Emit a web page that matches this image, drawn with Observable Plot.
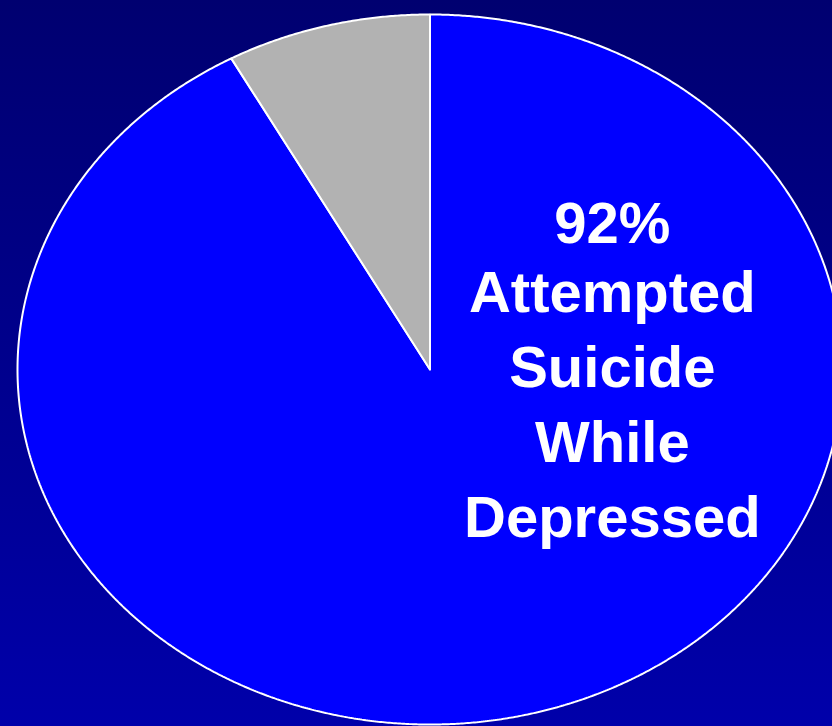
<!DOCTYPE html>
<html>
<head>
<meta charset="utf-8">
<script src="https://cdn.jsdelivr.net/npm/d3@7"></script>
<script src="https://cdn.jsdelivr.net/npm/@observablehq/plot@0.6"></script>
<style>
  html, body { margin: 0; padding: 0; overflow: hidden; background: linear-gradient(#000070, #0000AA); }
  #chart svg { display: block; overflow: hidden; }
</style>
</head>
<body>
<div id="chart"></div>
<script>
// Data
const categories = ["Attempted Suicide While Depressed", "Other"];
const values = [92, 8];
const colors = ["#0000FF", "#B2B2B2"];
const percentLabel = "92%";
const descriptionLines = ["Attempted", "Suicide", "While", "Depressed"];

// Pie geometry in unit data space (ellipse comes from x/y scales)
const arcs = d3.pie().sort(null).value(d => d)(values);
function wedge(a, i) {
  const n = Math.max(8, Math.ceil((a.endAngle - a.startAngle) / 0.005));
  const pts = [{x: 0, y: 0, k: i}];
  for (let j = 0; j <= n; j++) {
    const t = a.startAngle + (a.endAngle - a.startAngle) * j / n;
    pts.push({x: Math.sin(t), y: Math.cos(t), k: i});
  }
  pts.push({x: 0, y: 0, k: i});
  return pts;
}

const marks = arcs.map((a, i) =>
  Plot.line(wedge(a, i), {
    x: "x", y: "y",
    fill: colors[i],
    stroke: "white",
    strokeWidth: 2,
    strokeLinejoin: "miter",
    curve: "linear"
  })
);

const labelFont = {
  fontFamily: "'Liberation Sans', Arial, sans-serif",
  fontWeight: "bold",
  fontSize: 58,
  fill: "white",
  textAnchor: "middle"
};

marks.push(Plot.text([percentLabel], {
  x: () => 0.442, y: () => 0.355, text: d => d,
  lineAnchor: "bottom", ...labelFont
}));
marks.push(Plot.text([descriptionLines.join("\n")], {
  x: () => 0.442, y: () => 0.312, text: d => d,
  lineAnchor: "top", lineHeight: 1.293, ...labelFont
}));

const chart = Plot.plot({
  width: 832,
  height: 726,
  margin: 0,
  x: {domain: [-1, 1], range: [17, 842], axis: null},
  y: {domain: [-1, 1], range: [724, 14], axis: null},
  style: {background: "linear-gradient(#000070, #0000AA)", overflow: "hidden"},
  marks
});
document.getElementById("chart").appendChild(chart);
</script>
</body>
</html>
